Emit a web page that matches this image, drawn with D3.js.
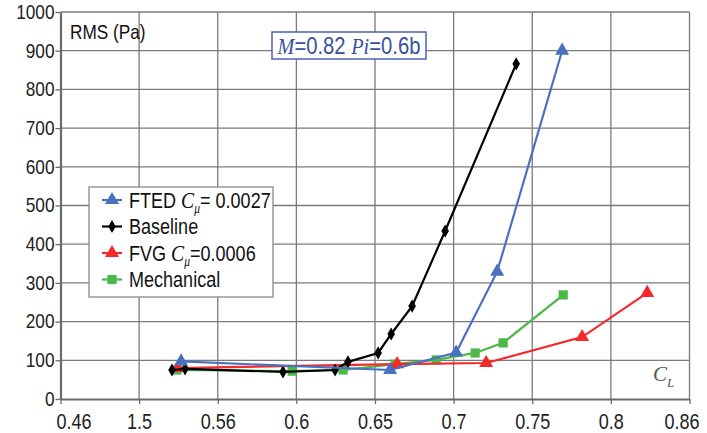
<!DOCTYPE html>
<html><head><meta charset="utf-8">
<script src="https://cdn.jsdelivr.net/npm/d3@7"></script>
<style>
html,body{margin:0;padding:0;background:#fff;}
svg text{font-family:'Liberation Sans Narrow','Arial Narrow','Liberation Sans',sans-serif;}
</style></head>
<body><svg id="c" width="707" height="433"></svg>
<script>
const xTickValues = [0.45,0.50,0.55,0.60,0.65,0.70,0.75,0.80,0.85];
const xTickLabels = ["0.46","1.5","0.56","0.6","0.65","0.7","0.75","0.8","0.86"];
const yTickValues = [0,100,200,300,400,500,600,700,800,900,1000];

const ftedCL  = [0.5267,0.6596,0.7016,0.7277,0.7690];
const ftedRMS = [97,75,120,329,900];
const baseCL  = [0.5209,0.5292,0.5915,0.6246,0.6328,0.6520,0.6603,0.6736,0.6946,0.7398];
const baseRMS = [75,78,70,75,96,119,168,240,434,866];
const fvgCL   = [0.5247,0.6641,0.7207,0.7817,0.8231];
const fvgRMS  = [80,90,93,160,274];
const mechCL  = [0.5241,0.5973,0.6297,0.6628,0.6889,0.7137,0.7315,0.7697];
const mechRMS = [75,72,75,90,101,119,145,269];

const SX = 0.82; // horizontal condensing of sans text
const serif = "'Liberation Serif','DejaVu Serif',serif";

const svg = d3.select("#c");
const x = d3.scaleLinear().domain([0.45,0.85]).range([60.5,689.5]);
const y = d3.scaleLinear().domain([0,1000]).range([399,12]);

// grid
const g = svg.append("g");
g.selectAll(".vg").data(xTickValues.slice(1)).enter().append("line")
  .attr("x1",d=>x(d)).attr("x2",d=>x(d)).attr("y1",y(0)).attr("y2",y(1000))
  .attr("stroke","#7a7a7a").attr("stroke-width",1.3);
g.selectAll(".hg").data(yTickValues.slice(1)).enter().append("line")
  .attr("x1",x(0.45)).attr("x2",x(0.85)).attr("y1",d=>y(d)).attr("y2",d=>y(d))
  .attr("stroke","#7a7a7a").attr("stroke-width",1.3);

// axes
const xAxis = d3.axisBottom(x).tickValues(xTickValues).tickFormat((d,i)=>xTickLabels[i]).tickSize(5).tickSizeOuter(0);
const yAxis = d3.axisLeft(y).tickValues(yTickValues).tickFormat(d3.format("d")).tickSize(5).tickSizeOuter(0);
const gx = svg.append("g").attr("transform",`translate(0,${y(0)})`).call(xAxis);
const gy = svg.append("g").attr("transform",`translate(${x(0.45)},0)`).call(yAxis);
[gx,gy].forEach(a=>{
  a.select(".domain").attr("stroke","#6b6b6b").attr("stroke-width",2.2);
  a.selectAll(".tick line").attr("stroke","#6b6b6b").attr("stroke-width",1.3);
  a.selectAll(".tick text").attr("fill","#222").style("font-size","21px");
});
const nX = xTickValues.length;
gx.selectAll(".tick text").style("font-size","22px").attr("y",0).attr("dy",0)
  .attr("transform",(d,i)=>`translate(${i===0?13:(i===nX-1?-8:0)},30) scale(${SX},1)`);
gy.selectAll(".tick text").attr("x",0).attr("dy","0.3em").attr("transform",`translate(-6,0) scale(${SX},1)`);

const sym = {
  tri: d3.symbol().type(d3.symbolTriangle).size(85),
  dia: d3.symbol().type(d3.symbolDiamond).size(50),
  sq:  d3.symbol().type(d3.symbolSquare).size(85)
};

function drawSeries(xs, ys, color, s){
  const pts = xs.map((v,i)=>[v,ys[i]]);
  svg.append("path").datum(pts)
    .attr("d", d3.line().x(d=>x(d[0])).y(d=>y(d[1])))
    .attr("fill","none").attr("stroke",color).attr("stroke-width",2.2);
  svg.selectAll(null).data(pts).enter().append("path")
    .attr("d", s).attr("transform",d=>`translate(${x(d[0])},${y(d[1])})`)
    .attr("fill",color);
}
drawSeries(mechCL, mechRMS, "#4cb84a", sym.sq);
drawSeries(fvgCL, fvgRMS, "#f5282a", sym.tri);
drawSeries(baseCL, baseRMS, "#000", sym.dia);
drawSeries(ftedCL, ftedRMS, "#4a70c2", sym.tri);

function condensed(parent, x0, y0, anchor, sx){
  return parent.append("text").attr("transform",`translate(${x0},${y0}) scale(${sx||SX},1)`)
    .attr("text-anchor",anchor||"start");
}

// RMS label
condensed(svg,70,39).style("font-size","21px").attr("fill","#111").text("RMS (Pa)");

// title box
const tb = svg.append("g");
tb.append("rect").attr("x",272).attr("y",32).attr("width",154).attr("height",27)
  .attr("fill","#fff").attr("stroke","#4a62b4").attr("stroke-width",1.5);
const tt = condensed(tb,349,53.5,"middle",0.88).attr("fill","#3a4fa0").style("font-size","23px");
tt.append("tspan").style("font-family",serif).style("font-style","italic").text("M");
tt.append("tspan").text("=0.82 ");
tt.append("tspan").style("font-family",serif).style("font-style","italic").text("Pi");
tt.append("tspan").text("=0.6b");

// C_L label
const cl = svg.append("text").attr("x",653).attr("y",381).attr("fill","#555")
  .style("font-family",serif).style("font-style","italic").style("font-size","21px");
cl.append("tspan").text("C");
cl.append("tspan").attr("dy",6).style("font-size","13px").text("L");

// legend
const lg = svg.append("g");
lg.append("rect").attr("x",89).attr("y",187).attr("width",184).attr("height",110)
  .attr("fill","#fff").attr("stroke","#8a8a8a").attr("stroke-width",1.3);
const legendItems = [
  {c:"#4a70c2", s:sym.tri, parts:[["FTED ",0],["C",1],["μ",2],["= 0.0027",3]]},
  {c:"#000", s:sym.dia, parts:[["Baseline",0]]},
  {c:"#f5282a", s:sym.tri, parts:[["FVG ",0],["C",1],["μ",2],["=0.0006",3]]},
  {c:"#4cb84a", s:sym.sq, parts:[["Mechanical",0]]}
];
legendItems.forEach((it,i)=>{
  const yy = 200 + i*26.5;
  lg.append("line").attr("x1",102).attr("x2",122).attr("y1",yy).attr("y2",yy).attr("stroke",it.c).attr("stroke-width",2.2);
  lg.append("path").attr("d",it.s).attr("transform",`translate(112,${yy})`).attr("fill",it.c);
  const t = condensed(lg,129,yy+7.5).attr("fill","#111").style("font-size","22px");
  it.parts.forEach(p=>{
    const ts = t.append("tspan").text(p[0]);
    if(p[1]===1){ts.style("font-family",serif).style("font-style","italic").style("font-size","24px");}
    if(p[1]===2){ts.style("font-family",serif).style("font-style","italic").style("font-size","14px").attr("dy",5);}
    if(p[1]===3){ts.attr("dy",-5);}
  });
});
</script></body></html>
